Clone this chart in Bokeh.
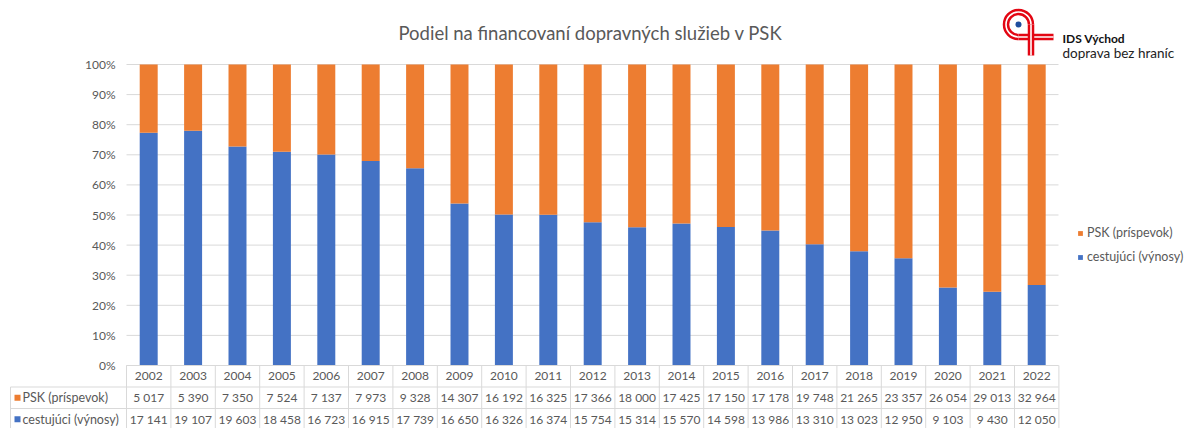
from bokeh.plotting import figure
from bokeh.models import Range1d, ColumnDataSource, Legend, LegendItem
from bokeh.core.properties import value
from bokeh.embed import file_html
from bokeh.resources import INLINE

# ---------------- data ----------------
TITLE = "Podiel na financovaní dopravných služieb v PSK"
YEARS = [2002, 2003, 2004, 2005, 2006, 2007, 2008, 2009, 2010, 2011, 2012,
         2013, 2014, 2015, 2016, 2017, 2018, 2019, 2020, 2021, 2022]
PSK = [5017, 5390, 7350, 7524, 7137, 7973, 9328, 14307, 16192, 16325, 17366,
       18000, 17425, 17150, 17178, 19748, 21265, 23357, 26054, 29013, 32964]
CES = [17141, 19107, 19603, 18458, 16723, 16915, 17739, 16650, 16326, 16374, 15754,
       15314, 15570, 14598, 13986, 13310, 13023, 12950, 9103, 9430, 12050]
SERIES = ["cestujúci (výnosy)", "PSK (príspevok)"]
COLORS = ["#4472C4", "#ED7D31"]
Y_TICKS = [0, 10, 20, 30, 40, 50, 60, 70, 80, 90, 100]
LOGO_TITLE = "IDS Východ"
LOGO_SUB = "doprava bez hraníc"

# ---------------- layout (picture pixels) ----------------
W, H = 1189, 428
OX, OY = 0, 0
COL_W = 44.4
PLOT_L, PLOT_R = 126, 1058
Y0, Y100 = 365, 64
ROW_H = 21.5
TABLE_L = 10
FONT = "Lato"
GRAY = "#595959"
LINE = "#d9d9d9"

PXU = float(Y0 - Y100)
x_start = -0.5 - (PLOT_L - OX) / COL_W
x_end = x_start + W / COL_W
y_end = 1 + (Y100 - OY) / PXU
y_start = y_end - H / PXU


def X(px):
    return x_start + (px - OX) / COL_W


def Y(py):
    return y_end - (py - OY) / PXU


p = figure(width=W, height=H, x_range=Range1d(x_start, x_end), y_range=Range1d(y_start, y_end),
           x_axis_type=None, y_axis_type=None, toolbar_location=None, output_backend="svg",
           min_border=0)
p.grid.visible = False
p.outline_line_color = None
p.background_fill_color = "white"
p.border_fill_color = "white"

n = len(YEARS)
idx = list(range(n))

# gridlines
p.segment(x0=[X(PLOT_L)] * len(Y_TICKS), x1=[X(PLOT_R)] * len(Y_TICKS),
          y0=[t / 100 for t in Y_TICKS], y1=[t / 100 for t in Y_TICKS],
          line_color=LINE, line_width=1)

# y tick labels
p.text(x=[X(115)] * len(Y_TICKS), y=[t / 100 for t in Y_TICKS], text=[f"{t}%" for t in Y_TICKS],
       text_align="right", text_baseline="middle", text_font=value(FONT),
       text_font_size="12px", text_color=GRAY)

# bars
src = ColumnDataSource(dict(
    x=idx,
    ces=[c / (c + q) for c, q in zip(CES, PSK)],
    psk=[q / (c + q) for c, q in zip(CES, PSK)],
))
rs = p.vbar_stack(["ces", "psk"], x="x", width=0.405, color=COLORS, line_color=None, source=src)

# title
p.text(x=[X(590)], y=[Y(32)], text=[TITLE], text_align="center", text_baseline="middle",
       text_font=value(FONT), text_font_size="18.5px", text_color=GRAY)

# legend
legend = Legend(items=[LegendItem(label=SERIES[1], renderers=[rs[1]]),
                       LegendItem(label=SERIES[0], renderers=[rs[0]])],
                location=(1077, 164), padding=0, margin=0, spacing=9,
                glyph_width=6, glyph_height=6, label_height=14, label_standoff=4,
                label_text_font=FONT, label_text_font_size="12.5px", label_text_color=GRAY,
                border_line_alpha=0, background_fill_alpha=0)
p.add_layout(legend)

# data table
fmt = lambda v: f"{v:,}".replace(",", "\u00a0")
r0, r1, r2 = Y(Y0 + ROW_H * 0.5), Y(Y0 + ROW_H * 1.5), Y(Y0 + ROW_H * 2.5)
p.text(x=idx, y=[r0] * n, text=[str(y) for y in YEARS], text_align="center", text_baseline="middle",
       text_font=value(FONT), text_font_size="12px", text_color=GRAY)
p.text(x=idx, y=[r1] * n, text=[fmt(v) for v in PSK], text_align="center", text_baseline="middle",
       text_font=value(FONT), text_font_size="12px", text_color=GRAY)
p.text(x=idx, y=[r2] * n, text=[fmt(v) for v in CES], text_align="center", text_baseline="middle",
       text_font=value(FONT), text_font_size="12px", text_color=GRAY)
p.text(x=[X(TABLE_L + 12)] * 2, y=[r1, r2], text=[SERIES[1], SERIES[0]], text_align="left",
       text_baseline="middle", text_font=value(FONT), text_font_size="12.5px", text_color=GRAY)
p.scatter(x=[X(TABLE_L + 7)] * 2, y=[r1, r2], marker="square", size=6,
          color=[COLORS[1], COLORS[0]], line_color=None)

# table lines
hx0 = [X(PLOT_L), X(TABLE_L), X(TABLE_L), X(TABLE_L)]
hy = [Y(Y0 + ROW_H * k) for k in range(4)]
p.segment(x0=hx0, x1=[X(PLOT_R)] * 4, y0=hy, y1=hy, line_color=LINE, line_width=1)
vx = [i - 0.5 for i in range(n + 1)]
p.segment(x0=vx, x1=vx, y0=[Y(Y0)] * len(vx), y1=[Y(Y0 + 3 * ROW_H)] * len(vx),
          line_color=LINE, line_width=1)
p.segment(x0=[X(TABLE_L)], x1=[X(TABLE_L)], y0=[Y(Y0 + ROW_H)], y1=[Y(Y0 + 3 * ROW_H)],
          line_color=LINE, line_width=1)

# logo
RED = "#E30613"
cx, cy, rr = 1018, 24, 12.5
for lw, col in [(6.5, RED), (1.6, "white")]:
    p.arc(x=[X(cx)], y=[Y(cy)], radius=rr, radius_units="screen", start_angle=0.0,
          end_angle=4.712, line_color=col, line_width=lw)
    p.line(x=[X(cx), X(1053)], y=[Y(cy + rr), Y(cy + rr)], line_color=col, line_width=lw)
for lw, col in [(6.5, RED), (1.6, "white")]:
    p.line(x=[X(cx + rr), X(cx + rr)], y=[Y(cy), Y(55)], line_color=col, line_width=lw)
p.scatter(x=[X(cx)], y=[Y(cy)], marker="circle", size=6, color="#1F4E9E", line_color=None)
p.text(x=[X(1062)], y=[Y(38)], text=[LOGO_TITLE], text_align="left", text_baseline="middle",
       text_font=value(FONT), text_font_size="12px", text_font_style="bold", text_color="#111111")
p.text(x=[X(1062)], y=[Y(52)], text=[LOGO_SUB], text_align="left", text_baseline="middle",
       text_font=value(FONT), text_font_size="13.5px", text_color="#222222")

open("out.html", "w").write(file_html(p, INLINE))
